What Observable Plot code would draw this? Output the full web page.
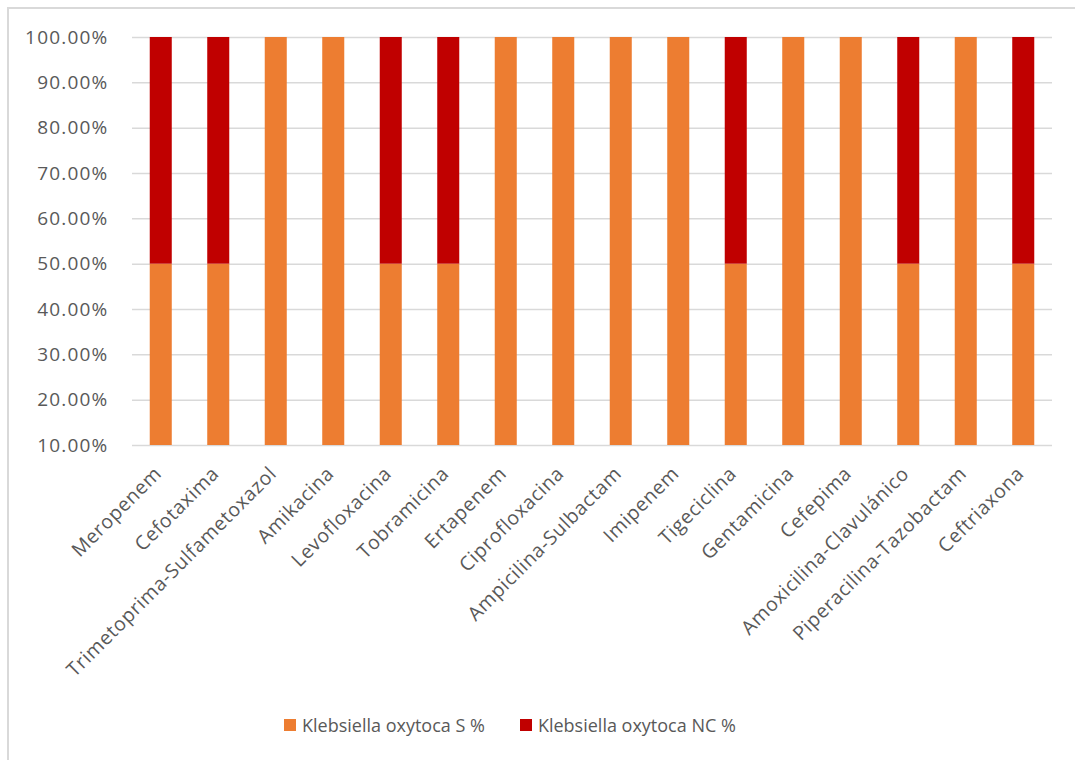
<!DOCTYPE html>
<html><head><meta charset="utf-8">
<script src="https://cdn.jsdelivr.net/npm/d3@7"></script>
<script src="https://cdn.jsdelivr.net/npm/@observablehq/plot@0.6"></script>
<style>
html,body{margin:0;padding:0;background:#fff;}
#wrap{position:relative;width:1075px;height:760px;overflow:hidden;}
#frame{position:absolute;left:7px;top:7px;width:1100px;height:800px;border-left:2px solid #d9d9d9;border-top:2px solid #d9d9d9;box-sizing:border-box;}
#chart{position:absolute;left:0;top:0;}
#legend{position:absolute;top:713px;left:284px;display:flex;gap:35px;font-family:"Open Sans",sans-serif;font-size:18px;color:#595959;}
#legend .it{display:flex;align-items:center;gap:6px;}
#legend .sw{width:12px;height:12px;display:inline-block;}
</style></head>
<body><div id="wrap"><div id="frame"></div><div id="chart"></div><div id="legend"></div></div>
<script>
const categories = ["Meropenem","Cefotaxima","Trimetoprima-Sulfametoxazol","Amikacina","Levofloxacina","Tobramicina","Ertapenem","Ciprofloxacina","Ampicilina-Sulbactam","Imipenem","Tigeciclina","Gentamicina","Cefepima","Amoxicilina-Clavulánico","Piperacilina-Tazobactam","Ceftriaxona"];
const sValues  = [50,50,100,100,50,50,100,100,100,100,50,100,100,50,100,50];
const ncValues = [50,50,0,0,50,50,0,0,0,0,50,0,0,50,0,50];
const seriesNames = ["Klebsiella oxytoca S %","Klebsiella oxytoca NC %"];
const seriesColors = ["#ED7D31","#C00000"];
const yTicks = [10,20,30,40,50,60,70,80,90,100];

const rows = [];
categories.forEach((c,i)=>rows.push({cat:c, series:seriesNames[0], v:sValues[i]}));
categories.forEach((c,i)=>rows.push({cat:c, series:seriesNames[1], v:ncValues[i]}));

const plot = Plot.plot({
  width:1075, height:700,
  marginTop:37, marginBottom:255, marginLeft:132, marginRight:23,
  style:{fontFamily:"'Open Sans', sans-serif", fontSize:"18px", color:"#595959", background:"transparent"},
  x:{domain:categories, paddingInner:0.617, paddingOuter:0.3085, round:false, label:null},
  y:{domain:[10,100], ticks:yTicks, label:null},
  color:{domain:seriesNames, range:seriesColors},
  marks:[
    Plot.gridY(yTicks, {stroke:"#d9d9d9", strokeOpacity:1, strokeWidth:1.5}),
    Plot.barY(rows, {x:"cat", y:"v", fill:"series", order:seriesNames, clip:true}),
    Plot.axisY(yTicks, {tickSize:0, tickPadding:24, tickFormat:d=>d.toFixed(2)+"%", label:null, fontSize:19, fill:"#595959"}),
    Plot.axisX({tickSize:0, tickRotate:-45, tickPadding:25, dx:-3, label:null, fontSize:19.5, fill:"#595959"})
  ]
});
plot.querySelectorAll("g[aria-label='y-axis tick label'] text").forEach(t=>t.setAttribute("letter-spacing","1.2"));
plot.querySelectorAll("g[aria-label='x-axis tick label'] text").forEach(t=>t.setAttribute("letter-spacing","0.6"));
document.getElementById("chart").appendChild(plot);

const lg = document.getElementById("legend");
seriesNames.forEach((n,i)=>{
  const it=document.createElement("div"); it.className="it";
  const sw=document.createElement("span"); sw.className="sw"; sw.style.background=seriesColors[i];
  const t=document.createElement("span"); t.textContent=n;
  it.appendChild(sw); it.appendChild(t); lg.appendChild(it);
});
</script></body></html>
